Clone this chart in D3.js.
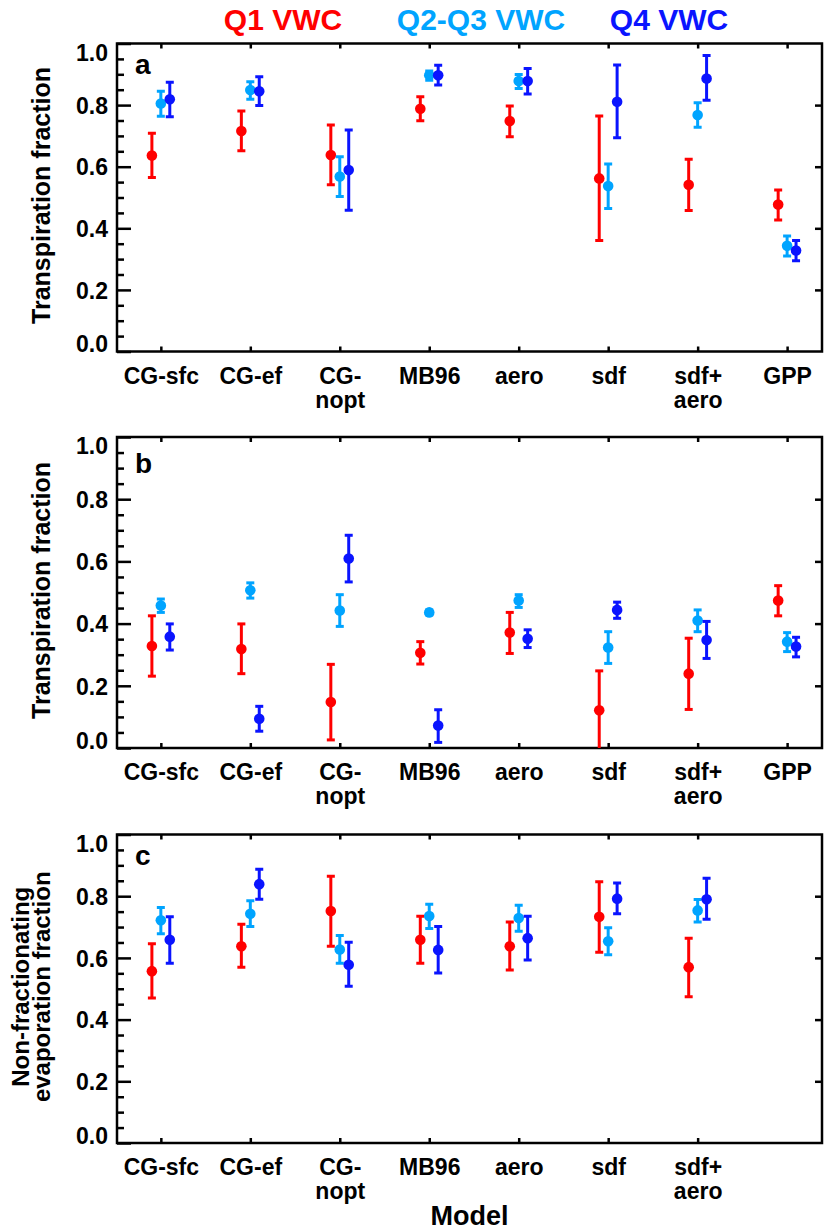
<!DOCTYPE html>
<html>
<head>
<meta charset="utf-8">
<script src="https://cdn.jsdelivr.net/npm/d3@7"></script>
<style>
  body { margin: 0; background: #fff; }
  svg { font-family: "Liberation Sans", Arial, Helvetica, sans-serif; font-weight: bold; }
</style>
</head>
<body>
<svg id="chart"></svg>
<script>
var width = 824;
var height = 1230;

// categories (x axis)
const models = ["CG-sfc", "CG-ef", "CG-nopt", "MB96", "aero", "sdf", "sdf+aero", "GPP"];
const modelLines = [["CG-sfc"], ["CG-ef"], ["CG-", "nopt"], ["MB96"], ["aero"], ["sdf"], ["sdf+", "aero"], ["GPP"]];
const yTicks = [0, 0.2, 0.4, 0.6, 0.8, 1.0];
const yMinor = [0.05, 0.1, 0.15, 0.25, 0.3, 0.35, 0.45, 0.5, 0.55, 0.65, 0.7, 0.75, 0.85, 0.9, 0.95];

const groups = ["Q1 VWC", "Q2-Q3 VWC", "Q4 VWC"];
const groupColors = ["#ff0000", "#00a4ff", "#0a14ff"];

// each entry: [value, low, high]
// panel a - transpiration fraction
const aQ1   = [[0.636,0.565,0.709],[0.716,0.652,0.781],[0.638,0.541,0.735],[0.788,0.749,0.827],[0.748,0.697,0.797],[0.562,0.360,0.765],[0.541,0.458,0.624],[0.477,0.427,0.524]];
const aQ23  = [[0.805,0.764,0.845],[0.849,0.819,0.876],[0.568,0.503,0.632],[0.897,0.881,0.911],[0.878,0.854,0.899],[0.537,0.464,0.609],[0.768,0.728,0.808],[0.343,0.310,0.375]];
const aQ4   = [[0.819,0.762,0.874],[0.845,0.799,0.892],[0.589,0.459,0.719],[0.897,0.865,0.929],[0.878,0.836,0.919],[0.811,0.694,0.930],[0.886,0.816,0.961],[0.328,0.295,0.360]];
// panel b - transpiration fraction
const bQ1   = [[0.328,0.231,0.425],[0.318,0.239,0.399],[0.148,0.026,0.269],[0.306,0.270,0.342],[0.371,0.304,0.436],[0.121,-0.02,0.248],[0.239,0.124,0.353],[0.474,0.425,0.522]];
const bQ23  = [[0.458,0.436,0.479],[0.507,0.482,0.531],[0.442,0.391,0.493],[0.436,0.428,0.444],[0.474,0.452,0.493],[0.323,0.272,0.374],[0.410,0.374,0.444],[0.342,0.310,0.371]];
const bQ4   = [[0.358,0.315,0.399],[0.094,0.054,0.134],[0.609,0.534,0.684],[0.072,0.018,0.123],[0.351,0.323,0.380],[0.444,0.417,0.469],[0.347,0.288,0.407],[0.326,0.293,0.356]];
// panel c - non-fractionating evaporation fraction (no GPP)
const cQ1   = [[0.557,0.470,0.646],[0.638,0.570,0.709],[0.752,0.638,0.865],[0.659,0.583,0.735],[0.638,0.561,0.716],[0.733,0.618,0.847],[0.570,0.474,0.664]];
const cQ23  = [[0.722,0.678,0.763],[0.743,0.702,0.785],[0.627,0.583,0.673],[0.736,0.695,0.774],[0.729,0.686,0.771],[0.654,0.610,0.698],[0.754,0.716,0.789]];
const cQ4   = [[0.659,0.583,0.733],[0.839,0.790,0.887],[0.578,0.508,0.651],[0.626,0.551,0.702],[0.664,0.593,0.735],[0.792,0.743,0.843],[0.790,0.725,0.858]];

const panels = [
  { letter: "a", top: 43.5, bottom: 351.5, n: 8, series: [aQ1, aQ23, aQ4], title: ["Transpiration fraction"], titleSize: 25, letterDy: 30 },
  { letter: "b", top: 437, bottom: 748, n: 8, series: [bQ1, bQ23, bQ4], title: ["Transpiration fraction"], titleSize: 25, letterDy: 36 },
  { letter: "c", top: 834.5, bottom: 1143, n: 7, series: [cQ1, cQ23, cQ4], title: ["Non-fractionating", "evaporation fraction"], titleSize: 24, letterDy: 30 }
];

var left = 117, right = 822;
var offsets = [-0.1, 0, 0.1];

var svg = d3.select("#chart")
  .attr("width", width)
  .attr("height", height)
  .attr("viewBox", [0, 0, width, height]);

var x = d3.scaleLinear()
  .domain([-0.49, 7.39])
  .range([left, right]);

//legend on top
var legendX = [283, 481, 669];
svg.selectAll("text.legend")
  .data(groups)
  .join("text")
    .attr("class", "legend")
    .attr("x", (d, i) => legendX[i])
    .attr("y", 30)
    .attr("text-anchor", "middle")
    .style("font-size", "30px")
    .attr("fill", (d, i) => groupColors[i])
    .text(d => d);

panels.forEach((p, pi) => {
  var y = d3.scaleLinear().domain([0, 1]).range([p.bottom, p.top]);
  var g = svg.append("g");
  var cats = d3.range(p.n);

  var clipId = "clip" + pi;
  g.append("clipPath").attr("id", clipId)
    .append("rect")
    .attr("x", left).attr("y", p.top)
    .attr("width", right - left).attr("height", p.bottom - p.top);

  // left axis, majors + minors pointing in
  var la = g.append("g").attr("transform", "translate(" + left + ",0)")
    .call(d3.axisLeft(y).tickValues(yTicks).tickFormat(d3.format(".1f")).tickSizeInner(-14).tickSizeOuter(0).tickPadding(9));
  la.append("g").call(d3.axisLeft(y).tickValues(yMinor).tickFormat("").tickSizeInner(-7).tickSizeOuter(0));
  la.selectAll("text").style("font-size", "23px").attr("fill", "#000")
    .attr("dy", d => d === 1 ? "0.72em" : d === 0 ? "0em" : "0.36em");

  // right axis, majors only
  g.append("g").attr("transform", "translate(" + right + ",0)")
    .call(d3.axisRight(y).tickValues(yTicks.slice(1, 5)).tickFormat("").tickSizeInner(-7).tickSizeOuter(0));

  // top axis
  g.append("g").attr("transform", "translate(0," + p.top + ")")
    .call(d3.axisTop(x).tickValues(cats).tickFormat("").tickSizeInner(-5).tickSizeOuter(0));

  // bottom axis with two-line labels
  var ba = g.append("g").attr("transform", "translate(0," + p.bottom + ")")
    .call(d3.axisBottom(x).tickValues(cats).tickFormat("").tickSizeInner(-5).tickSizeOuter(0).tickPadding(0));
  ba.selectAll(".tick").append("text")
    .attr("fill", "#000")
    .attr("text-anchor", "middle")
    .style("font-size", "23px")
    .attr("y", 32)
    .selectAll("tspan")
    .data(d => modelLines[d])
    .join("tspan")
      .attr("x", 0)
      .attr("dy", (d, i) => i === 0 ? 0 : 24)
      .text(d => d);

  g.selectAll(".domain").remove();
  g.selectAll(".tick line").attr("stroke", "#000").attr("stroke-width", 2.5);

  // frame
  g.append("rect")
    .attr("x", left).attr("y", p.top)
    .attr("width", right - left).attr("height", p.bottom - p.top)
    .attr("fill", "none").attr("stroke", "#000").attr("stroke-width", 2.5);

  // panel letter
  g.append("text")
    .attr("x", 135).attr("y", p.top + p.letterDy)
    .style("font-size", "28px")
    .text(p.letter);

  // y title
  var cy = (p.top + p.bottom) / 2;
  var tl = p.title.length;
  g.selectAll("text.ytitle")
    .data(p.title)
    .join("text")
      .attr("class", "ytitle")
      .attr("transform", (d, i) => "translate(" + (50 - (tl - 1 - i) * 21) + "," + (cy - 2) + ") rotate(-90)")
      .attr("text-anchor", "middle")
      .style("font-size", p.titleSize + "px")
      .text(d => d);

  // error bars and points
  var marks = g.append("g").attr("clip-path", "url(#" + clipId + ")");
  p.series.forEach((s, si) => {
    var col = groupColors[si];
    var sg = marks.append("g");
    var px = (d, i) => x(i + offsets[si]);
    sg.selectAll("line.stem").data(s).join("line")
      .attr("x1", px).attr("x2", px)
      .attr("y1", d => y(d[1])).attr("y2", d => y(d[2]))
      .attr("stroke", col).attr("stroke-width", 3);
    sg.selectAll("line.capL").data(s).join("line")
      .attr("x1", (d, i) => px(d, i) - 4).attr("x2", (d, i) => px(d, i) + 4)
      .attr("y1", d => y(d[1])).attr("y2", d => y(d[1]))
      .attr("stroke", col).attr("stroke-width", 3);
    sg.selectAll("line.capH").data(s).join("line")
      .attr("x1", (d, i) => px(d, i) - 4).attr("x2", (d, i) => px(d, i) + 4)
      .attr("y1", d => y(d[2])).attr("y2", d => y(d[2]))
      .attr("stroke", col).attr("stroke-width", 3);
    sg.selectAll("circle").data(s).join("circle")
      .attr("cx", px)
      .attr("cy", d => y(d[0]))
      .attr("r", 5.3)
      .attr("fill", col);
  });
});

// x axis title
svg.append("text")
  .attr("x", (left + right) / 2)
  .attr("y", 1225)
  .attr("text-anchor", "middle")
  .style("font-size", "27px")
  .text("Model");
</script>
</body>
</html>
